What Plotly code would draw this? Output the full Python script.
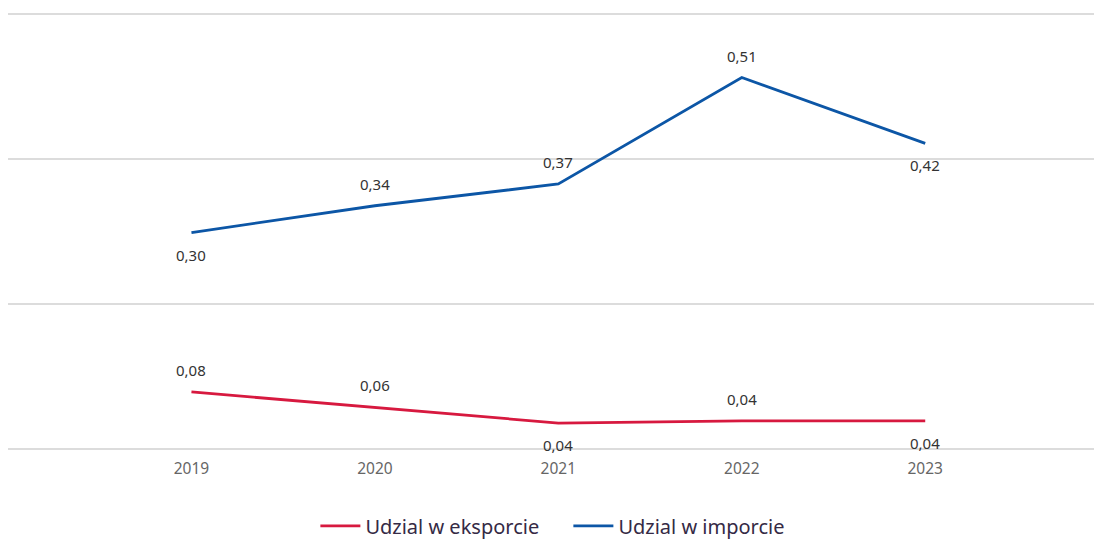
import plotly.graph_objects as go

# Dane
lata = [2019, 2020, 2021, 2022, 2023]
udzial_eksport = [0.079, 0.058, 0.036, 0.039, 0.039]
udzial_import = [0.299, 0.336, 0.366, 0.513, 0.422]

# etykieta nad (1) lub pod (-1) linią
strona_eksport = [1, 1, -1, 1, -1]
strona_import = [-1, 1, 1, 1, -1]

kolor_eksport = '#d7193f'
kolor_import = '#0c56a6'


def etykieta(v):
    return f"{v:.2f}".replace('.', ',')


fig = go.Figure()
fig.add_trace(go.Scatter(
    x=lata, y=udzial_eksport,
    mode='lines',
    name='Udzial w eksporcie',
    line=dict(color=kolor_eksport, width=2.8),
    hoverinfo='skip',
))
fig.add_trace(go.Scatter(
    x=lata, y=udzial_import,
    mode='lines',
    name='Udzial w imporcie',
    line=dict(color=kolor_import, width=2.8),
    hoverinfo='skip',
))

# etykiety wartości
for vals, strony in [(udzial_eksport, strona_eksport), (udzial_import, strona_import)]:
    for rok, v, s in zip(lata, vals, strony):
        fig.add_annotation(
            x=rok, y=v, text=etykieta(v),
            showarrow=False, yshift=22 * s,
            font=dict(size=15, color='#333333', family='Noto Sans'),
        )

fig.update_layout(
    width=1094, height=541,
    margin=dict(l=8, r=0, t=0, b=77),
    paper_bgcolor='white',
    plot_bgcolor='white',
    font=dict(family='Noto Sans'),
    showlegend=True,
    legend=dict(
        orientation='h', x=0.516, xanchor='center',
        yref='container', y=0.028, yanchor='middle',
        font=dict(size=20, color='#352a45'),
        itemwidth=40,
        entrywidth=198, entrywidthmode='pixels',
    ),
    xaxis=dict(
        range=[2018, 2023.92],
        tickvals=lata,
        ticktext=[str(r) for r in lata],
        showgrid=False, zeroline=False, showline=False,
        tickfont=dict(size=15.5, color='#666666'),
        ticks='', ticklabelstandoff=-7,
    ),
    yaxis=dict(
        range=[-0.0205, 0.62],
        tickvals=[0, 0.2, 0.4, 0.6],
        showticklabels=False,
        gridcolor='#dcdcdc', gridwidth=1.5,
        zeroline=False, showline=False,
    ),
)

fig.write_html("out.html", config={'displayModeBar': False},
               post_script="document.body.style.margin='0';")
